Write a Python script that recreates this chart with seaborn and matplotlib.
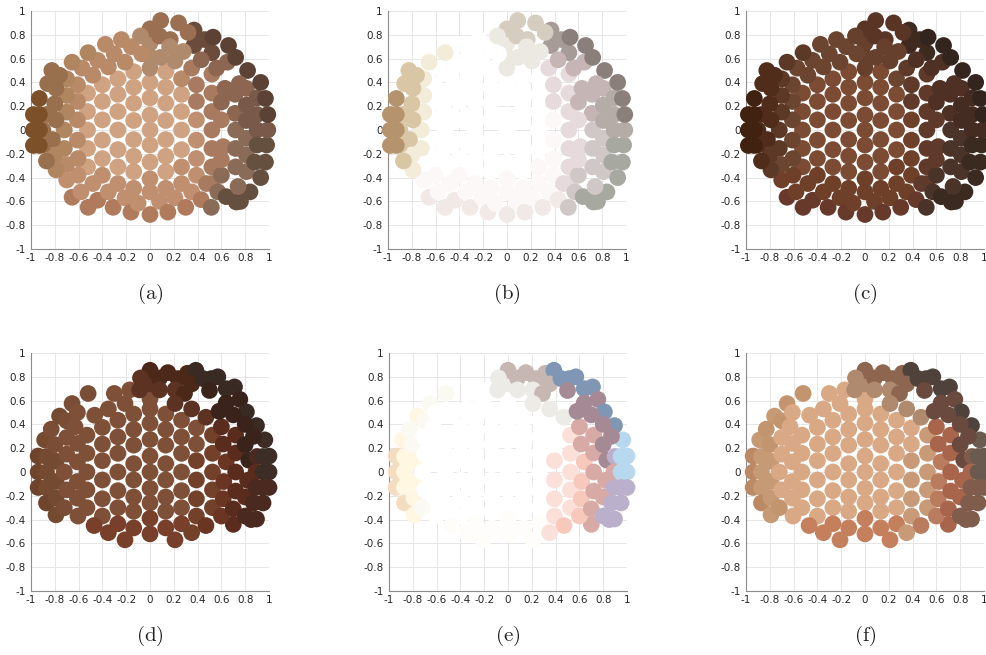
import matplotlib
matplotlib.use("Agg")
import matplotlib.pyplot as plt
import seaborn as sns
import pandas as pd

# top row points (a, b, c), grouped by column
top_x = [0]*13 + [-.137]*8 + [.132]*8 + [-.27]*7 + [.265]*7 + [-.40]*6 + [.39]*6 + [-.525]*5 + [-.48, -.48] + [.52]*7 + [
    -.07, -.21, -.35, -.30, -.157, -.44, -.57, -.375, -.24, -.52,
    -.655, -.61, -.70, -.61, -.61, -.61, -.605, -.605,
    -.70, -.70, -.72, -.72, -.70, -.70,
    -.79, -.80, -.79, -.82, -.80, -.79,
    -.825, -.76, -.86, -.93, -.87, -.90, -.90, -.87,
    -.98, -.98, -.98, -.93, -.93, -.93,
    -.655, -.58, -.52, -.44, -.31, -.35, -.21, -.16, -.10,
    .08, .15, .21, .30, .35, .43, .515, .475, .57, .64,
    .725, .76, .84, .74, .60, .72, .60, .615, .72, .72,
    .715, .715, .60, .60, .63, .65, .56, .52, .46, .37,
    .81, .81, .81, .81, .81, .81, .82, .75, .72, .66,
    .90, .90, .90, .90, .88, .93, .97, .98, .99, .99, .97, .93,
    .09, .24, .37, .53, .08, .17, .32, .28, .165, .09,
    .21, .35, .43, -.08]
top_y = [0, .126, -.126, .27, -.27, .40, -.41, .52, -.52, .615, -.71, .73, .85,
    .08, -.08, .225, -.22, .36, -.35, .49, -.49,
    .08, -.08, .225, -.22, .36, -.35, .49, -.49,
    0, .155, -.165, .30, -.31, .43, -.45,
    0, .155, -.165, .30, -.31, .43, -.45,
    .085, -.085, .24, -.24, .38, -.38,
    .085, -.085, .24, -.24, .38, -.38,
    0, .155, -.155, .31, -.31, .46, -.45,
    0, .155, -.155, .31, -.31, .47, -.45,
    .64, .57, .53, .64, .70, .585, .52, .72, .76, .65,
    .57, .38, .43, .24, .085, -.085, -.24, -.38,
    .29, .15, 0, -.155, -.29, -.42,
    .35, .22, .085, -.08, -.21, -.335,
    .50, .46, .39, .265, .13, 0, -.126, -.26,
    .13, 0, -.13, .13, 0, -.13,
    -.565, -.52, -.65, -.59, -.65, -.52, -.57, -.69, -.615,
    -.60, -.69, -.57, -.65, -.52, -.585, -.65, -.45, -.52, -.56,
    -.605, -.60, -.52, -.475, -.38, -.31, -.25, -.14, -.155, 0,
    .14, .30, .235, .085, .35, .57, .52, .65, .76, .71,
    -.07, -.21, -.35, .08, .21, .35, .50, .39, .61, .71,
    .27, .13, 0, -.126, -.27, -.40, -.27, -.126, 0, .13, .265, .40,
    .92, .90, .84, .78, .79, .76, .82, .66, .70, .61,
    .58, .52, .59, .79]
top_shade = [0, 0, 0, 0, 0, 0, 1, 9, 1, 9, 2, 9, 8,
    0, 0, 0, 0, 0, 0, 0, 1,
    0, 0, 0, 0, 0, 0, 0, 1,
    0, 0, 0, 0, 0, 0, 1,
    0, 0, 0, 0, 1, 13, 1,
    0, 0, 0, 0, 0, 1,
    1, 1, 3, 1, 3, 1,
    0, 0, 0, 0, 0, 13, 1,
    3, 3, 3, 3, 3, 3, 3,
    13, 13, 13, 13, 13, 13, 13, 13, 13, 10,
    10, 13, 10, 13, 13, 13, 13, 1,
    10, 10, 10, 10, 13, 1,
    11, 11, 11, 11, 10, 10,
    11, 11, 11, 12, 11, 11, 11, 11,
    12, 12, 12, 12, 12, 12,
    2, 1, 2, 2, 2, 1, 1, 2, 1,
    1, 2, 1, 2, 1, 2, 14, 3, 14, 6,
    6, 6, 6, 14, 14, 14, 3, 3, 14, 14,
    4, 4, 4, 3, 4, 4, 4, 15, 15, 15,
    14, 14, 14, 5, 5, 4, 7, 4, 7, 7,
    5, 5, 5, 6, 6, 6, 6, 6, 5, 7, 7, 7,
    8, 8, 15, 7, 8, 8, 8, 9, 9, 9,
    9, 3, 4, 9]

# bottom row points (d, e, f)
bot_x = [0]*12 + [-.137]*8 + [.132]*8 + [-.27]*7 + [.265]*7 + [-.40]*6 + [.39]*6 + [-.53]*5 + [.525]*5 + [
    -.465, -.35, -.21, -.30, -.17, -.52, -.655, -.76, -.08, .08,
    .15, .235, .315, .385, .35, .445, .515, .57, .50, .64,
    .71, .755, .64, .81, .895, .965, 1.0, 1.0, 1.0, .95,
    .895, .70, .60, .47, .35, .21, -.21, -.35, -.47, -.605,
    .08, -.087, .21, .29, .21, .35, .47,
    .60, .615, .64, .62, .615, .58,
    .70, .72, .72, .72, .72, .70,
    .80, .80, .83, .82, .80, .80, .85,
    .87, .90, .89, .89, .87, .95, .95, .95,
    -.94, -.94, -.94, -.87, -.87, -.87, -.885, -.83, -.87, -.79,
    -.79, -.79, -.80, -.79, -.72, -.70, -.70, -.70, -.72, -.70,
    -.63, -.61, -.61, -.61, -.61, -.61]
bot_y = [0, .134, -.137, .273, -.26, .41, -.39, .53, -.52, .615, .74, .855,
    .07, -.067, .226, -.21, .357, -.33, .487, -.47,
    .07, -.067, .226, -.21, .357, -.33, .487, -.47,
    0, .157, -.157, .295, -.30, .435, -.435,
    0, .157, -.157, .295, -.30, .435, -.435,
    .095, -.067, .235, -.225, .375, -.37,
    .095, -.067, .235, -.225, .37, -.37,
    0, .157, -.15, .31, -.30,
    0, .157, -.15, .31, -.30,
    .477, .53, .575, .66, .69, .66, .575, .47, .79, .79,
    .835, .785, .83, .855, .74, .785, .785, .80, .685, .70,
    .715, .61, .58, .505, .39, .27, .134, 0, -.13, -.26,
    -.395, -.44, -.37, -.45, -.51, -.57, -.57, -.51, -.45, -.37,
    .69, .69, .69, .66, .575, .53, .46,
    .38, .235, .085, -.08, -.225, .51,
    .48, .31, .16, 0, -.16, -.31,
    .40, .23, .10, -.07, -.21, -.37, -.40,
    .30, .13, 0, -.13, -.26, .13, 0, -.13,
    .134, 0, -.13, .13, 0, -.13, .27, .36, -.26, -.36,
    .09, -.08, .23, -.22, -.30, .43, .29, .15, 0, -.15,
    .38, .24, .085, -.08, -.22, .50]
bot_shade = [0, 0, 0, 0, 0, 0, 12, 0, 12, 0, 9, 8,
    0, 0, 0, 0, 0, 0, 0, 12,
    0, 0, 0, 0, 0, 0, 0, 12,
    0, 0, 0, 0, 0, 0, 12,
    0, 0, 0, 0, 0, 0, 12,
    0, 0, 0, 0, 0, 0,
    1, 1, 0, 1, 0, 1,
    0, 0, 0, 0, 0,
    1, 1, 1, 1, 1,
    0, 0, 0, 0, 0, 13, 13, 11, 9, 8,
    8, 8, 8, 7, 8, 7, 7, 7, 6, 7,
    7, 6, 6, 7, 7, 5, 5, 5, 4, 4,
    4, 3, 2, 2, 1, 12, 12, 12, 12, 0,
    9, 9, 9, 8, 9, 9, 9,
    3, 3, 2, 2, 2, 6,
    6, 3, 3, 3, 3, 3,
    6, 6, 6, 3, 3, 4, 4,
    6, 4, 3, 4, 4, 5, 5, 4,
    10, 10, 10, 11, 11, 11, 11, 13, 10, 11,
    11, 11, 13, 11, 13, 13, 0, 0, 0, 0,
    0, 0, 0, 0, 0, 0]

# colour per shade group, one list per panel
colors_a = ["#cfa282", "#bf8f70", "#b07a5c", "#a87a5f", "#8d6651", "#78594a", "#65503f", "#5b4235",
            "#9a6f52", "#b08a6d", "#b08660", "#99704e", "#7c5029", "#b98a68", "#8a6b58", "#6b4c3a"]
colors_b = ["#ffffff", "#fcf8f7", "#f0e9e6", "#e6dadc", "#c5b5b5", "#b5aca8", "#a7a8a0", "#8a7f7a",
            "#d5cdc0", "#ece9e2", "#f2ecd8", "#d8c6a5", "#b5946d", "#ffffff", "#cfc8c6", "#a79b98"]
colors_c = ["#7b4c33", "#6f4029", "#66392a", "#5f3a2a", "#4f3025", "#452c22", "#3a2a20", "#33241d",
            "#5a3424", "#66402c", "#5c3926", "#502d1b", "#41210f", "#6b4530", "#4a3328", "#3f2a20"]
colors_d = ["#7f5038", "#73402a", "#6b3524", "#5a2c1e", "#4a2a20", "#3e2d26", "#3a231a", "#3a2a24",
            "#4c2818", "#5c3322", "#6e442c", "#744a30", "#78402a", "#7a4e36"]
colors_e = ["#ffffff", "#fbe0da", "#f6c9bc", "#d8aaa5", "#bbb0cc", "#b8d8f0", "#a58a95", "#7f97b5",
            "#c7b7b2", "#ecebe5", "#f4dcc0", "#fff7e2", "#fffdfa", "#fbfaf2"]
colors_f = ["#d9a885", "#c99a78", "#b97c5e", "#a8654c", "#7f5c4c", "#6a5a50", "#6a4a3e", "#4f423a",
            "#8e6650", "#b08a6e", "#bb8a64", "#c59a75", "#c4805c", "#c2956f"]

captions = ["(a)", "(b)", "(c)", "(d)", "(e)", "(f)"]
ticks = [-1, -.8, -.6, -.4, -.2, 0, .2, .4, .6, .8, 1]
tick_labels = ["-1", "-0.8", "-0.6", "-0.4", "-0.2", "0", "0.2", "0.4", "0.6", "0.8", "1"]

sns.set_style("white")
plt.rcParams["mathtext.fontset"] = "cm"

W, H = 986, 655
fig = plt.figure(figsize=(W/100, H/100), dpi=100)

top = pd.DataFrame({"x": top_x, "y": top_y, "shade": top_shade})
bot = pd.DataFrame({"x": bot_x, "y": bot_y, "shade": bot_shade})

panels = [(31, 11, top, colors_a), (388, 11, top, colors_b), (746, 11, top, colors_c),
          (31, 353, bot, colors_d), (389, 353, bot, colors_e), (746, 353, bot, colors_f)]

for (left, up, df, cols), cap in zip(panels, captions):
    ax = fig.add_axes([left/W, 1-(up+238)/H, 238/W, 238/H])
    sns.scatterplot(data=df, x="x", y="y", hue="shade", palette=dict(enumerate(cols)),
                    s=145, linewidth=0, legend=False, clip_on=False, zorder=3, ax=ax)
    ax.set_xlim(-1, 1)
    ax.set_ylim(-1, 1)
    ax.set_xticks(ticks)
    ax.set_yticks(ticks)
    ax.set_xticklabels(tick_labels)
    ax.set_yticklabels(tick_labels)
    ax.set_xlabel("")
    ax.set_ylabel("")
    ax.grid(True, color="#e6e6e6", linewidth=0.7)
    ax.set_axisbelow(True)
    ax.tick_params(axis="x", labelsize=7.5, colors="#262626", pad=3, length=0)
    ax.tick_params(axis="y", labelsize=7.5, colors="#262626", pad=4, length=0)
    sns.despine(ax=ax)
    ax.spines["left"].set_color("#8c8c8c")
    ax.spines["bottom"].set_color("#8c8c8c")
    ax.spines["left"].set_linewidth(0.8)
    ax.spines["bottom"].set_linewidth(0.8)
    fig.text((left+119)/W, 1-(up+283)/H, "$\\mathrm{" + cap + "}$", fontsize=15, ha="center", va="center", color="#222222")

fig.savefig("out.png", dpi=100)
